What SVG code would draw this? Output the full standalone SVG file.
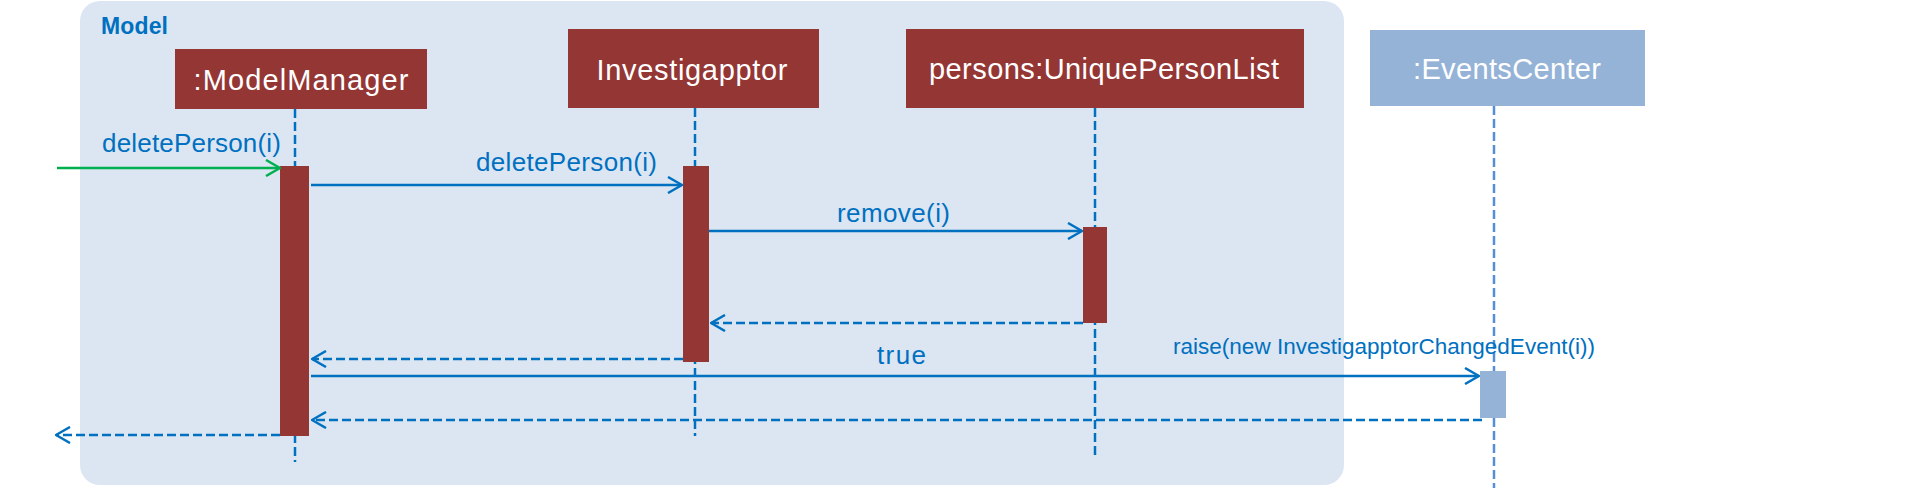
<svg xmlns="http://www.w3.org/2000/svg" width="1908" height="488" viewBox="0 0 1908 488">
<style>
.box{fill:#943634}
.box2{fill:#95B3D7}
.bt{font-family:"Liberation Sans",Arial,sans-serif;font-size:29px;fill:#ffffff;text-anchor:middle}
.ml{font-family:"Liberation Sans",Arial,sans-serif;font-size:26px;fill:#0070C0}
.ms{font-family:"Liberation Sans",Arial,sans-serif;font-size:22.5px;fill:#0070C0}
.life{stroke:#0070C0;stroke-width:2.5;stroke-dasharray:9 4;fill:none}
.life2{stroke:#558ED5;stroke-width:2.5;stroke-dasharray:9 4;fill:none}
.msg{stroke:#0070C0;stroke-width:2.5;fill:none;marker-end:url(#arr)}
.ret{stroke:#0070C0;stroke-width:2.5;fill:none;stroke-dasharray:9 4;marker-end:url(#arr)}
.found{stroke:#00B050;stroke-width:2.5;fill:none;marker-end:url(#arrg)}
</style>
<defs>
<marker id="arr" viewBox="0 0 16 18" refX="15" refY="9" markerWidth="16" markerHeight="18" markerUnits="userSpaceOnUse" orient="auto">
<path d="M1,1 L15,9 L1,17" fill="none" stroke="#0070C0" stroke-width="2.5"/>
</marker>
<marker id="arrg" viewBox="0 0 16 18" refX="15" refY="9" markerWidth="16" markerHeight="18" markerUnits="userSpaceOnUse" orient="auto">
<path d="M1,1 L15,9 L1,17" fill="none" stroke="#00B050" stroke-width="2.5"/>
</marker>
</defs>
<rect width="1908" height="488" fill="#ffffff"/>
<g id="frame-model">
<rect x="80" y="1" width="1264" height="484" rx="20" fill="#DCE6F2"/>
<text x="101" y="34" font-family="Liberation Sans,Arial,sans-serif" font-size="23" font-weight="bold" fill="#0070C0" textLength="67">Model</text>
</g>
<g id="lifelines">
<line class="life" x1="295" y1="109" x2="295" y2="462"/>
<line class="life" x1="695" y1="108" x2="695" y2="436"/>
<line class="life" x1="1095" y1="108" x2="1095" y2="458"/>
<line class="life2" x1="1494" y1="106" x2="1494" y2="488"/>
</g>
<g id="node-modelmanager">
<rect class="box" x="175" y="49" width="252" height="60"/>
<text class="bt" x="301" y="90" textLength="215">:ModelManager</text>
<rect class="box" x="280" y="166" width="29" height="270"/>
</g>
<g id="node-investigapptor">
<rect class="box" x="568" y="29" width="251" height="79"/>
<text class="bt" x="692" y="80" textLength="191">Investigapptor</text>
<rect class="box" x="683" y="166" width="26" height="196"/>
</g>
<g id="node-persons">
<rect class="box" x="906" y="29" width="398" height="79"/>
<text class="bt" x="1104" y="79" textLength="350">persons:UniquePersonList</text>
<rect class="box" x="1083" y="227" width="24" height="96"/>
</g>
<g id="node-eventscenter">
<rect class="box2" x="1370" y="30" width="275" height="76"/>
<text class="bt" x="1507" y="79" textLength="188">:EventsCenter</text>
<rect class="box2" x="1480" y="371" width="26" height="47"/>
</g>
<g id="connectors">
<line class="found" x1="57" y1="168" x2="280" y2="168"/>
<text class="ml" x="102" y="152" textLength="179">deletePerson(i)</text>
<line class="msg" x1="311" y1="185" x2="682" y2="185"/>
<text class="ml" x="476" y="171" textLength="181">deletePerson(i)</text>
<line class="msg" x1="709" y1="231" x2="1082" y2="231"/>
<text class="ml" x="837" y="222" textLength="113">remove(i)</text>
<line class="ret" x1="1083" y1="323" x2="711" y2="323"/>
<line class="ret" x1="683" y1="359" x2="312" y2="359"/>
<line class="msg" x1="311" y1="376" x2="1479" y2="376"/>
<text class="ml" x="877" y="364" textLength="49">true</text>
<text class="ms" x="1173" y="354" textLength="422">raise(new InvestigapptorChangedEvent(i))</text>
<line class="ret" x1="1482" y1="420" x2="312" y2="420"/>
<line class="ret" x1="280" y1="435" x2="56" y2="435"/>
</g>
</svg>
